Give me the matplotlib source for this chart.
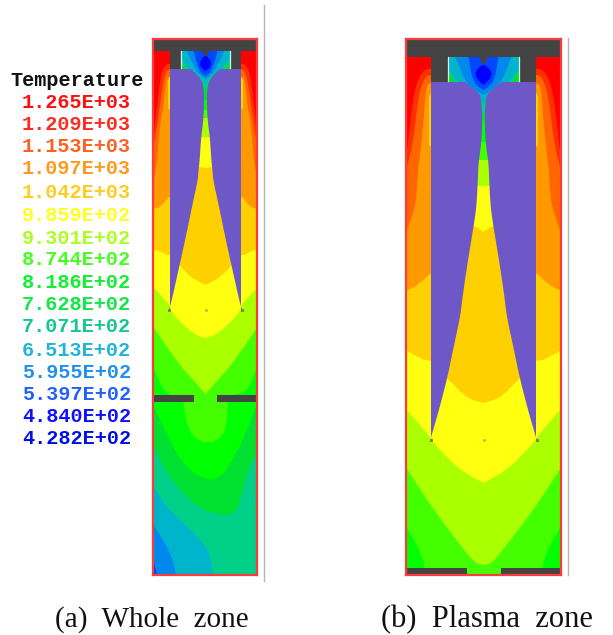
import matplotlib
matplotlib.use("Agg")
import matplotlib.pyplot as plt
from matplotlib.lines import Line2D

W, H = 613, 635

# ---- legend ----
legend_title = "Temperature"
level_labels = ["1.265E+03", "1.209E+03", "1.153E+03", "1.097E+03", "1.042E+03", "9.859E+02",
                "9.301E+02", "8.744E+02", "8.186E+02", "7.628E+02", "7.071E+02", "6.513E+02",
                "5.955E+02", "5.397E+02", "4.840E+02", "4.282E+02"]
label_y = [102, 124, 147, 169, 192, 215, 238, 260, 282, 304, 327, 350, 372, 394, 417, 439]
label_colors = ["#ff1010", "#ff2a20", "#ff6020", "#ff9a20", "#ffcc20", "#ffff20", "#aaff20", "#44ff20",
                "#10f030", "#10e848", "#10c890", "#20b4d8", "#2090f0", "#2060ff", "#1010ff", "#0010e0"]

# ---- band colours ----
C1265, C1209, C1153, C1097, C1042, C986 = "#ff0000", "#ff3000", "#ff6600", "#ff9900", "#ffd000", "#ffff10"
C930, C874, C819, C763, C707, C651 = "#aaff00", "#44ff00", "#00ff00", "#00e030", "#00d088", "#00b4cc"
C595, C540, C484 = "#0088ee", "#0048ff", "#0000ff"
PURPLE, GRAY, FRAME = "#6e58c8", "#444444", "#ff3a3a"

# ---- panel (a): isotherms as (distance from axis, depth) ----
a_side = [
    (C1209, [(51.5, 130), (50.5, 123), (45.5, 80), (42.5, 68), (35.5, 62)]),
    (C1153, [(51.5, 143), (48.5, 127), (43.5, 90), (40.5, 73), (35.5, 68)]),
    (C1097, [(51.5, 178), (48.5, 163), (45.5, 123), (42.5, 110), (39.5, 80), (35.5, 75)]),
    (C1042, [(51.5, 209), (45.5, 207), (40.5, 202), (35.5, 195)]),
    (C986, [(51.5, 250), (45.5, 251), (35.5, 257)]),
    (C930, [(51.5, 288), (35.5, 305), (35.5, 309.5), (27.5, 320), (10.5, 335), (0, 338)]),
    (C874, [(51.5, 328), (27.5, 363), (10.5, 382), (0, 394)]),
]
a_strip = [(35.5, 77), (37.5, 80), (37.5, 108), (35.5, 110)]
a_lower_819 = [(-51.5, 368), (-40.5, 395), (-22.5, 395), (-22.5, 402), (-17.5, 430), (-7.5, 440), (1.5, 443),
               (12.5, 440), (20.5, 430), (22.5, 402), (22.5, 395), (41.5, 393), (51.5, 367)]
a_lower_763 = [(-51.5, 407), (-40.5, 430), (-27.5, 457), (-10.5, 475), (6.5, 481), (19.5, 473), (32.5, 450),
               (41.5, 430), (51.5, 405)]
a_lower_707 = [(-51.5, 447), (-40.5, 470), (-23.5, 493), (-3.5, 510), (19.5, 516), (31.5, 512), (36.5, 493),
               (42.5, 470), (51.5, 453)]
a_lower_651 = [(-51.5, 487), (-40.5, 505), (-27.5, 518), (-7.5, 537), (4.5, 553), (7.5, 574)]
a_sliver_651 = [(51.5, 490), (50, 500), (51.5, 510)]
a_lower_595 = [(-51.5, 526), (-40.5, 543), (-32.5, 560), (-29.5, 574)]
a_lower_540 = [(-51.5, 563), (-48.5, 574)]
a_channel = [
    (C1042, [(34, 255), (24.7, 267), (13.7, 278), (0, 285)]),
    (C986, [(34, 165), (6, 167), (0, 168)]),
    (C930, [(34, 137), (0, 137)]),
    (C874, [(34, 118), (0, 118)]),
    (C819, [(34, 110), (0, 110)]),
    (C763, [(34, 100), (0, 100)]),
    (C707, [(25, 61), (18.7, 69.5), (8, 78), (0, 90)]),
    (C651, [(25, 57), (17, 69.5), (6, 76), (2, 80), (0, 85)]),
    (C595, [(18.7, 51), (10, 69.5), (5, 75), (0, 79)]),
    (C540, [(12, 51), (8.7, 63), (5.3, 72), (0, 76)]),
]
a_heart = [(0, 56), (2, 56.5), (5.8, 62), (5, 67), (0, 71)]
a_notch = [(3.5, 51), (2, 54), (0, 57)]
a_inner_depth = [69, 73, 80, 90, 100, 118, 127, 137, 162, 170, 180, 203, 237, 270, 300, 310]
a_inner_half = [15, 10, 3.7, 1.7, 1.3, 2, 3, 4.3, 6, 7, 7.7, 12.7, 19.7, 27, 33.7, 36.5]

# ---- panel (b) ----
b_side = [
    (C1209, [(76.5, 150), (75.5, 143), (70.5, 97), (63.5, 73), (52.5, 67)]),
    (C1153, [(76.5, 167), (70.5, 143), (65.5, 100), (60.5, 80), (52.5, 73)]),
    (C1097, [(76.5, 230), (73.5, 222), (68.5, 207), (66.5, 190), (65.5, 170), (60.5, 130), (57.5, 85), (52.5, 83)]),
    (C1042, [(76.5, 290), (70, 288), (56.5, 277), (52.5, 272)]),
    (C986, [(76.5, 351), (52.5, 364)]),
    (C930, [(76.5, 410), (52.5, 438), (52.5, 440), (43.5, 450), (23.5, 470), (0, 483)]),
    (C874, [(76.5, 469), (50, 510), (17, 553), (8, 563), (0, 565)]),
]
b_strip = [(52.5, 93), (54.5, 97), (54.5, 145), (52.5, 147)]
b_corner_819 = [(76.5, 528), (65.5, 547), (59.5, 563), (59.5, 575), (76.5, 575)]
b_channel = [
    (C1042, [(50, 370), (36, 378), (17.3, 398), (0, 403)]),
    (C986, [(50, 222), (9.3, 225), (0, 232)]),
    (C930, [(50, 185), (0, 186)]),
    (C874, [(50, 160), (0, 160)]),
    (C819, [(50, 142), (0, 142)]),
    (C763, [(50, 120), (0, 120)]),
    (C707, [(36, 70), (28, 82.5), (15, 100), (0, 113)]),
    (C651, [(36, 68), (26, 82.5), (8, 92), (2, 100), (0, 105)]),
    (C595, [(28, 57), (18, 82), (10, 88), (5, 92), (0, 95)]),
    (C540, [(15, 57), (11.7, 77), (6.7, 86), (0, 90)]),
]
b_heart = [(0, 65), (3, 66), (8.5, 72), (7, 78), (3, 82.5), (0, 85)]
b_notch = [(4, 57), (2.5, 62), (0, 65)]
b_inner_depth = [82, 92, 98.3, 113, 137, 153, 163, 180, 197, 210, 227, 257, 290, 310, 320, 343, 377, 410, 438, 440]
b_inner_half = [18.3, 5, 2.5, 1.2, 1.7, 3.5, 5, 5.7, 6.5, 7.5, 10, 15, 20, 22.5, 24, 29, 36, 44.5, 52.7, 53]

captions = ["(a)  Whole  zone", "(b)  Plasma  zone"]

fig = plt.figure(figsize=(W / 100, H / 100), dpi=100, facecolor="white")


def panel(left, right, xmin, xmax):
    ax = fig.add_axes([left / W, 1 - 575 / H, (right - left) / W, (575 - 39) / H])
    ax.set_xlim(xmin, xmax)
    ax.set_ylim(575, 39)
    ax.set_xticks([])
    ax.set_yticks([])
    for s in ax.spines.values():
        s.set_color(FRAME)
        s.set_linewidth(1.6)
        s.set_zorder(20)
    return ax


def rounded(pts, passes=2):
    """Corner-cut a read-off polyline so it draws as the soft curve of the picture."""
    for _ in range(passes):
        out = [pts[0]]
        for p, q in zip(pts[:-1], pts[1:]):
            out.append((0.75 * p[0] + 0.25 * q[0], 0.75 * p[1] + 0.25 * q[1]))
            out.append((0.25 * p[0] + 0.75 * q[0], 0.25 * p[1] + 0.75 * q[1]))
        out.append(pts[-1])
        pts = out
    return pts


def poly(ax, pts, color, z=1):
    ax.fill([p[0] for p in pts], [p[1] for p in pts], color=color, lw=0, zorder=z)


def mirror(curve):
    return [(-h, d) for h, d in curve] + [(h, d) for h, d in reversed(curve)]


def both_sides(ax, pts, color):
    poly(ax, pts, color)
    poly(ax, [(-h, d) for h, d in pts], color)


def below(ax, pts, color, wall, bottom=575):
    poly(ax, rounded(list(pts)) + [(wall + 1, bottom), (-wall - 1, bottom)], color)


def above(ax, curve, color, top):
    poly(ax, [(-curve[0][0], top)] + rounded(mirror(curve)) + [(curve[0][0], top)], color)


def left_corner(ax, curve, color, bottom=575):
    poly(ax, rounded(curve) + [(curve[-1][0], bottom), (curve[0][0], bottom)], color)


def draw_sides(ax, wall, side, strip):
    poly(ax, [(-wall - 1, 40), (wall + 1, 40), (wall + 1, 575), (-wall - 1, 575)], C1265)
    for color, curve in side:
        below(ax, mirror(curve), color, wall)
    both_sides(ax, strip, C1042)


def finish_channel(ax, top_strip, channel, heart, notch, inner_depth, inner_half, block_half, cav_half, block_bottom, tip, wall):
    for color, curve in channel:
        above(ax, curve, color, top_strip)
    poly(ax, rounded(mirror(heart)), C484)
    poly(ax, mirror(notch), GRAY, 3)
    inner = rounded(list(zip(inner_half, inner_depth)), 1)
    purple = [(block_half, block_bottom)] + inner + [(block_half, tip)]
    ax.fill([-p[0] for p in purple], [p[1] for p in purple], color=PURPLE, lw=0, zorder=4)
    ax.fill([p[0] for p in purple], [p[1] for p in purple], color=PURPLE, lw=0, zorder=4)
    for sgn in (-1, 1):
        ax.fill([sgn * cav_half, sgn * block_half, sgn * block_half, sgn * cav_half],
                [top_strip, top_strip, block_bottom, block_bottom], color=GRAY, lw=0, zorder=5)
        ax.plot([sgn * cav_half] * 2, [top_strip, block_bottom - 1], color="#d8f4f4", lw=0.9, zorder=6)
    ax.fill([-wall - 1, wall + 1, wall + 1, -wall - 1], [39, 39, top_strip, top_strip], color=GRAY, lw=0, zorder=5)
    for sgn in (-1, 1):
        ax.plot([sgn * inner_half[-1]], [inner_depth[-1]], marker="s", ms=1.2, color="#808060", zorder=6)
    ax.plot([0], [inner_depth[-1]], marker="s", ms=1, color="#b0c040", zorder=3)


# panel (a)
ax_a = panel(153, 257, -52.5, 51.5)
draw_sides(ax_a, 51.5, a_side, a_strip)
below(ax_a, a_lower_819, C819, 51.5)
below(ax_a, a_lower_763, C763, 51.5)
below(ax_a, a_lower_707, C707, 51.5)
left_corner(ax_a, a_lower_651, C651, 574)
poly(ax_a, a_sliver_651, C651)
left_corner(ax_a, a_lower_595, C595, 574)
left_corner(ax_a, a_lower_540, C540, 574)
finish_channel(ax_a, 51, a_channel, a_heart, a_notch, a_inner_depth, a_inner_half, 35.5, 24.5, 69, 310, 51.5)
for sgn in (-1, 1):
    ax_a.fill([sgn * 11.5, sgn * 52.5, sgn * 52.5, sgn * 11.5], [395, 395, 401.5, 401.5], color=GRAY, lw=0, zorder=5)

# panel (b)
ax_b = panel(406, 561, -77.5, 77.5)
draw_sides(ax_b, 76.5, b_side, b_strip)
both_sides(ax_b, b_corner_819, C819)
finish_channel(ax_b, 57, b_channel, b_heart, b_notch, b_inner_depth, b_inner_half, 52.5, 35.5, 82, 440, 76.5)
for sgn in (-1, 1):
    ax_b.fill([sgn * 17, sgn * 78, sgn * 78, sgn * 17], [568, 568, 575, 575], color=GRAY, lw=0, zorder=5)

# separators
fig.add_artist(Line2D([263.5 / W] * 2, [1 - 5 / H, 1 - 581 / H], color="#b4b4b4", lw=1.0))
fig.add_artist(Line2D([567.5 / W] * 2, [1 - 38 / H, 1 - 575 / H], color="#b4b4b4", lw=1.0))

# legend text
fig.text(77 / W, 1 - 80 / H, legend_title, family="Liberation Mono", weight="bold", fontsize=14.5,
         color="#111111", ha="center", va="center")
for lab, y, col in zip(level_labels, label_y, label_colors):
    fig.text(76.5 / W, 1 - y / H, lab, family="Liberation Mono", weight="bold", fontsize=14.5,
             color=col, ha="center", va="center")

# captions
fig.text(55 / W, 1 - 627 / H, captions[0], family="Liberation Serif", fontsize=21, color="#111111",
         ha="left", va="baseline")
fig.text(381 / W, 1 - 627 / H, captions[1], family="Liberation Serif", fontsize=22, color="#111111",
         ha="left", va="baseline")

fig.savefig("out.png", dpi=100, facecolor="white")
